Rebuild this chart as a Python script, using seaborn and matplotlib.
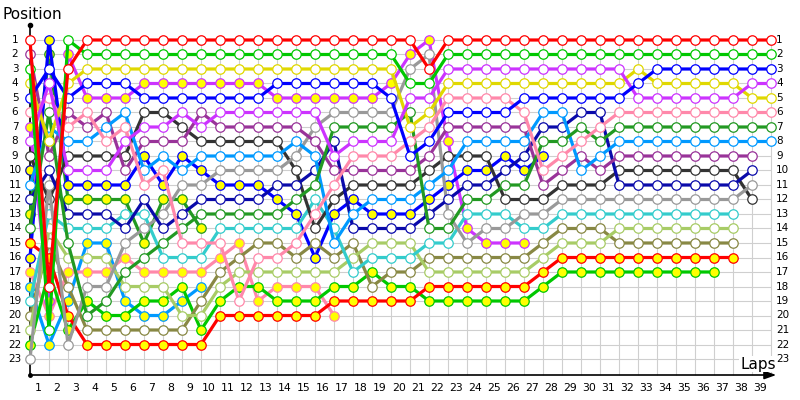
import matplotlib
matplotlib.use("Agg")
import matplotlib.pyplot as plt
import numpy as np
import pandas as pd
import seaborn as sns

N = None
laps = list(range(40))                      # column 0 = grid, 1..39 = laps
lap_labels = [str(i) for i in range(1, 40)]
positions = list(range(1, 24))

RW  = [1,18,3,1,1,1,1,1,1,1, 1,1,1,1,1,1,1,1,1,1, 1,3,1,1,1,1,1,1,1,1, 1,1,1,1,1,1,1,1,1,1]
GW  = [3,21,1,2,2,2,2,2,2,2, 2,2,2,2,2,2,2,2,2,2, 4,4,2,2,2,2,2,2,2,2, 2,2,2,2,2,2,2,2,2,2]
YW  = [4,8,4,3,3,3,3,3,3,3, 3,3,3,3,3,3,3,3,3,3, 7,6,4,4,4,4,4,4,4,4, 4,4,3,4,4,4,4,4,5,5]
BW  = [5,3,5,4,4,4,5,5,5,5, 5,5,5,4,4,4,4,4,4,5, 9,8,6,6,6,6,5,5,5,5, 5,5,4,3,3,3,3,3,3,3]
VY  = [7,19,2,5,5,5,4,4,4,4, 4,4,4,5,5,5,5,5,5,4, 2,1,8,14,15,15,15,N,N,N, N,N,N,N,N,N,N,N,N,N]
VW  = [8,4,10,10,10,8,7,7,6,7, 6,6,6,6,6,6,9,8,8,8, 5,5,3,3,3,3,3,3,3,3, 3,3,5,5,5,5,5,5,4,4]
PuW = [2,9,6,7,6,10,8,8,8,6, 7,7,7,7,7,8,10,10,10,10, 10,9,7,7,7,7,7,11,10,9, 10,9,9,9,9,9,9,9,9,N]
KW  = [9,12,9,9,9,9,6,6,7,8, 8,8,8,8,10,14,12,11,11,11, 11,10,9,9,9,12,12,12,11,11, 11,10,10,10,10,10,10,10,12,N]
GrW = [23,11,22,18,18,15,14,13,11,11, 10,10,10,10,9,7,6,6,6,6, 3,2,13,15,14,14,13,13,12,12, 12,12,12,12,12,12,12,12,11,N]
DGW = [14,6,15,20,19,17,16,15,14,13, 13,13,13,13,12,11,7,7,7,7, 6,14,14,12,12,11,11,8,8,7, 8,7,7,7,7,7,7,7,7,7]
DGY = [13,2,12,12,12,12,15,12,12,14, N,N,N,N,N,N,N,N,N,N, N,N,N,N,N,N,N,N,N,N, N,N,N,N,N,N,N,N,N,N]
NW  = [12,10,13,13,13,14,12,14,13,12, 12,12,12,11,11,10,8,14,14,14, 14,13,12,11,11,10,9,7,7,6, 6,11,11,11,11,11,11,11,10,N]
CW  = [19,13,14,14,14,13,13,16,16,16, 14,14,14,14,14,12,14,17,16,16, 16,15,15,13,13,13,14,14,13,13, 13,13,13,13,13,13,13,13,N,N]
LBW = [11,7,8,8,7,6,10,9,10,9, 9,9,9,9,8,9,15,13,12,12, 12,11,10,8,8,8,8,6,6,10, 9,8,8,8,8,8,8,8,8,8]
LBY = [18,22,19,15,15,19,20,20,19,18, N,N,N,N,N,N,N,N,N,N, N,N,N,N,N,N,N,N,N,N, N,N,N,N,N,N,N,N,N,N]
PW  = [6,5,7,6,8,7,11,10,15,15, 15,19,16,16,15,13,11,9,9,9, 8,7,5,5,5,5,6,10,9,8, 7,6,6,6,6,6,6,6,6,6]
PY  = [17,20,17,17,17,16,17,17,17,17, 16,15,19,18,18,18,20,N,N,N, N,N,N,N,N,N,N,N,N,N, N,N,N,N,N,N,N,N,N,N]
RY  = [15,16,20,22,22,22,22,22,22,22, 20,20,20,20,20,20,19,19,19,19, 19,18,18,18,18,18,18,17,16,16, 16,16,16,16,16,16,16,16,N,N]
GY  = [22,17,21,19,20,20,19,19,18,21, 19,18,18,19,19,19,18,18,17,18, 18,19,19,19,19,19,19,18,17,17, 17,17,17,17,17,17,17,N,N,N]
OW  = [20,15,18,21,21,21,21,21,21,19, 17,16,15,15,16,15,16,15,18,17, 17,16,16,16,16,16,16,15,14,14, 14,15,15,15,15,15,15,15,N,N]
LGW = [21,14,16,16,16,18,18,18,20,20, 18,17,17,17,17,17,17,16,15,15, 15,17,17,17,17,17,17,16,15,15, 15,14,14,14,14,14,14,14,N,N]
BY  = [16,1,11,11,11,11,9,11,9,10, 11,11,11,12,13,16,13,12,13,13, 13,12,11,10,10,9,10,9,N,N, N,N,N,N,N,N,N,N,N,N]
XY  = [10,N,N,N,N,N,N,N,N,N, N,N,N,N,N,N,N,N,N,N, N,N,N,N,N,N,N,N,N,N, N,N,N,N,N,N,N,N,N,N]

WHITE, YEL = "#ffffff", "#ffff00"
# drawing order: back to front
drivers = [
    ("XY", XY, "#0a0aaa", YEL), ("LBY", LBY, "#0099ff", YEL), ("DGY", DGY, "#229922", YEL),
    ("PY", PY, "#ff88aa", YEL), ("VY", VY, "#cc33ff", YEL), ("BY", BY, "#0000ff", YEL),
    ("GY", GY, "#00c800", YEL), ("RY", RY, "#ff0000", YEL), ("OW", OW, "#888844", WHITE),
    ("LGW", LGW, "#a8cc66", WHITE), ("CW", CW, "#33cccc", WHITE), ("KW", KW, "#333333", WHITE),
    ("GrW", GrW, "#999999", WHITE), ("NW", NW, "#0a0aaa", WHITE), ("PuW", PuW, "#993399", WHITE),
    ("LBW", LBW, "#0099ff", WHITE), ("DGW", DGW, "#229922", WHITE), ("PW", PW, "#ff88aa", WHITE),
    ("YW", YW, "#e0d800", WHITE), ("VW", VW, "#cc33ff", WHITE), ("BW", BW, "#0000ff", WHITE),
    ("GW", GW, "#00c800", WHITE), ("RW", RW, "#ff0000", WHITE),
]

plt.rcParams["font.family"] = ["DejaVu Sans"]
fig = plt.figure(figsize=(8, 4), dpi=100)
ax = fig.add_axes([0, 0, 1, 1])
# data coords mapped onto the pixel layout: col 0 at x=30 px, 19 px per lap; row 1 at y=40 px, 14.5 px per row
XL = (-30 / 19, 770 / 19)
YL = (1 + 360 / 14.5, 1 - 40 / 14.5)

def px_x(px):
    return (px - 30) / 19

def px_y(py):
    return 1 + (py - 40) / 14.5

x_first, x_last = laps[0], laps[-1]
y_top_axis = px_y(25)
y_bottom_axis = px_y(375)
grid_c = "#cfcfcf"
ax.hlines(positions, x_first, x_last, color=grid_c, lw=0.8, zorder=0)
ax.vlines(laps, positions[0], y_bottom_axis, color=grid_c, lw=0.8, zorder=0)

# axes
ax.plot([x_first, x_first], [y_top_axis, y_bottom_axis], color="black", lw=1.2, zorder=1)
ax.plot([x_first], [y_top_axis], marker="o", ms=3, color="black", zorder=1)
ax.plot([x_first], [y_bottom_axis], marker="o", ms=2.5, color="black", zorder=1)
ax.annotate("", xy=(px_x(779), y_bottom_axis), xytext=(x_first, y_bottom_axis),
            arrowprops=dict(arrowstyle="-|>,head_length=0.7,head_width=0.25", color="black", lw=1.2),
            zorder=1)

for name, vals, col, fill in drivers:
    d = pd.DataFrame({"lap": laps, "pos": vals}).dropna()
    sns.lineplot(data=d, x="lap", y="pos", ax=ax, color=col, lw=2.3, estimator=None, sort=False,
                 marker="o", markersize=6.8, markerfacecolor=fill, markeredgecolor=col,
                 markeredgewidth=0.9, legend=False, zorder=3)
ax.set_xlim(*XL)
ax.set_ylim(*YL)
ax.axis("off")

# labels
for p in positions:
    ax.text(px_x(15), p, str(p), ha="center", va="center", fontsize=7.5, color="black")
    ax.text(px_x(776), p, str(p), ha="left", va="center", fontsize=7.5, color="black")
for i, lab in enumerate(lap_labels, start=1):
    ax.text(i - 0.58, px_y(388), lab, ha="center", va="center", fontsize=7.8, color="black")

ax.text(px_x(2), px_y(15), "Position", ha="left", va="center", fontsize=11, color="black")
ax.text(px_x(758), px_y(364), "Laps", ha="center", va="center", fontsize=11, color="black",
        bbox=dict(boxstyle="square,pad=0.05", fc="white", ec="none"), zorder=5)

fig.savefig("out.png", dpi=100)
